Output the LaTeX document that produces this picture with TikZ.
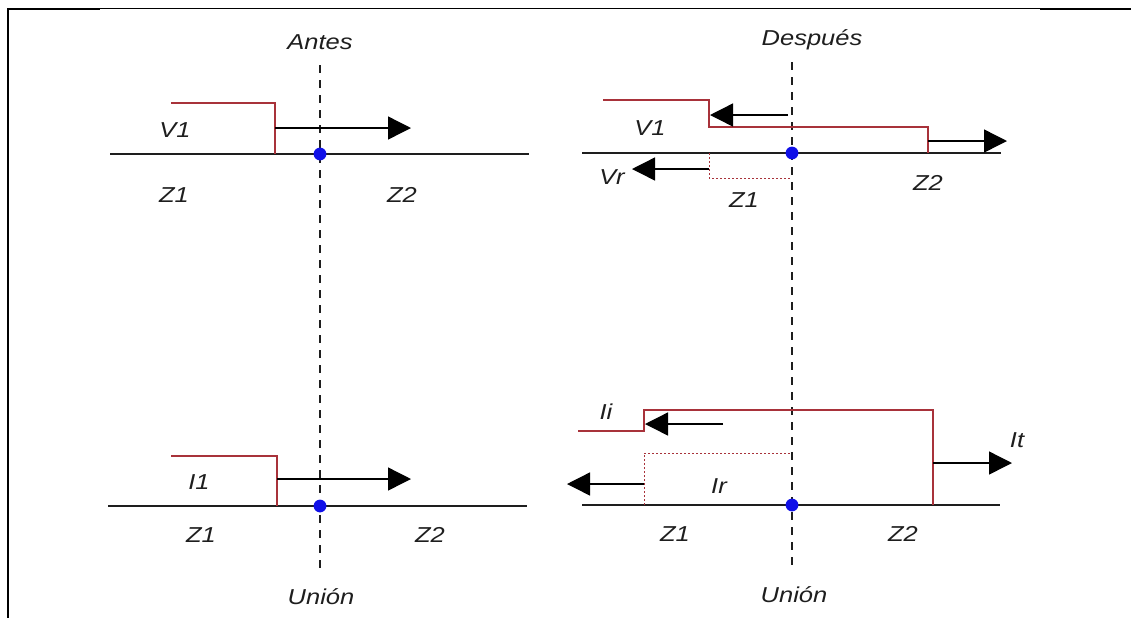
\documentclass[tikz,border=0pt]{standalone}
\usepackage{fontspec}
\newfontfamily\lblfont[FakeStretch=1.18]{Liberation Sans}
\usetikzlibrary{arrows.meta}
\def\wLight{0.5pt}
\def\wRegular{0.7pt}
\def\wStrong{0.85pt}
\definecolor{cWave}{HTML}{A8323A}
\definecolor{cJoint}{HTML}{1010E8}
\definecolor{cInk}{HTML}{1E1E1E}
\tikzset{
  lbl/.style={font=\lblfont\itshape\fontsize{10.8}{12}\selectfont, text=cInk, inner sep=0pt},
  line/.style={draw=cInk, line width=\wStrong},
  wave/.style={draw=cWave, line width=\wRegular},
  wave-r/.style={draw=cWave, line width=\wLight, dash pattern=on 1pt off 1pt},
  guide/.style={draw=cInk, line width=\wRegular, dash pattern=on 4pt off 3.5pt},
  flow/.style={draw=black, line width=\wRegular, -{Triangle[length=11.5pt, width=11.5pt]}},
  junc/.style={circle, fill=cJoint, inner sep=0pt, minimum size=6.4pt},
  frame/.style={draw=black, line width=0.5pt},
  frame-b/.style={draw=black, line width=1pt},
}

\begin{document}
\begin{tikzpicture}[x=0.5pt, y=-0.5pt]
\useasboundingbox (0,0) rectangle (1131,618);
% cell border
\draw[frame] (7,8.5) -- (1131,8.5);
\draw[frame-b] (8,9.3) -- (100,9.3);
\draw[frame-b] (1040,9.3) -- (1131,9.3);
\draw[frame-b] (8,8.5) -- (8,618);
% Antes: junction lines and guide
\coordinate (gTa) at (320,65);
\coordinate (gBa) at (320,572);
\draw[guide] (gTa) -- (gBa);
\node[lbl] (antes) at (320,42) {Antes};
\node[lbl] (unionA) at (321,597) {Unión};
\coordinate (vLa) at (110,154);
\coordinate (vRa) at (529,154);
\draw[line] (vLa) -- (vRa);
\node[junc] (jVa) at (320,154) {};
\draw[wave] (171,103) -- (275,103) -- (275,154);
\coordinate (vaS) at (275,128);
\coordinate (vaE) at (411,128);
\draw[flow] (vaS) -- (vaE);
\node[lbl] (v1a) at (175,130) {V1};
\node[lbl] (z1va) at (174,195) {Z1};
\node[lbl] (z2va) at (402,195) {Z2};
\coordinate (iLa) at (108,506);
\coordinate (iRa) at (527,506);
\draw[line] (iLa) -- (iRa);
\node[junc] (jIa) at (320,506) {};
\draw[wave] (171,456) -- (277,456) -- (277,506);
\coordinate (iaS) at (277,479);
\coordinate (iaE) at (411,479);
\draw[flow] (iaS) -- (iaE);
\node[lbl] (i1a) at (199,482) {I1};
\node[lbl] (z1ia) at (201,535) {Z1};
\node[lbl] (z2ia) at (430,535) {Z2};
% Despues: junction lines and guide
\coordinate (gTd) at (792,62);
\coordinate (gBd) at (792,568);
\draw[guide] (gTd) -- (gBd);
\node[lbl] (despues) at (812,40) {Después};
\node[lbl] (unionD) at (794,595) {Unión};
\coordinate (vLd) at (582,153);
\coordinate (vRd) at (1001,153);
\draw[line] (vLd) -- (vRd);
\draw[wave] (603,100) -- (709,100) -- (709,127) -- (928,127) -- (928,153);
\draw[wave-r] (709,153) -- (709,178) -- (792,178);
\node[junc] (jVd) at (792,153) {};
\coordinate (viS) at (788,115);
\coordinate (viE) at (710,115);
\draw[flow] (viS) -- (viE);
\coordinate (vtS) at (928,141);
\coordinate (vtE) at (1007,141);
\draw[flow] (vtS) -- (vtE);
\coordinate (vrS) at (709,169);
\coordinate (vrE) at (632,169);
\draw[flow] (vrS) -- (vrE);
\node[lbl] (v1d) at (650,128) {V1};
\node[lbl] (vr) at (612,177) {Vr};
\node[lbl] (z1vd) at (744,200) {Z1};
\node[lbl] (z2vd) at (928,183) {Z2};
\coordinate (iLd) at (582,505);
\coordinate (iRd) at (1000,505);
\draw[line] (iLd) -- (iRd);
\draw[wave] (578,431) -- (644,431) -- (644,410) -- (933,410) -- (933,505);
\draw[wave-r] (644,505) -- (644,453) -- (792,453);
\node[junc] (jId) at (792,505) {};
\coordinate (iiS) at (723,424);
\coordinate (iiE) at (645,424);
\draw[flow] (iiS) -- (iiE);
\coordinate (irS) at (644,484);
\coordinate (irE) at (567,484);
\draw[flow] (irS) -- (irE);
\coordinate (itS) at (933,463);
\coordinate (itE) at (1012,463);
\draw[flow] (itS) -- (itE);
\node[lbl] (ii) at (606,412) {Ii};
\node[lbl] (ir) at (719,486) {Ir};
\node[lbl] (it) at (1017,440) {It};
\node[lbl] (z1id) at (675,534) {Z1};
\node[lbl] (z2id) at (903,534) {Z2};
\end{tikzpicture}
\end{document}
